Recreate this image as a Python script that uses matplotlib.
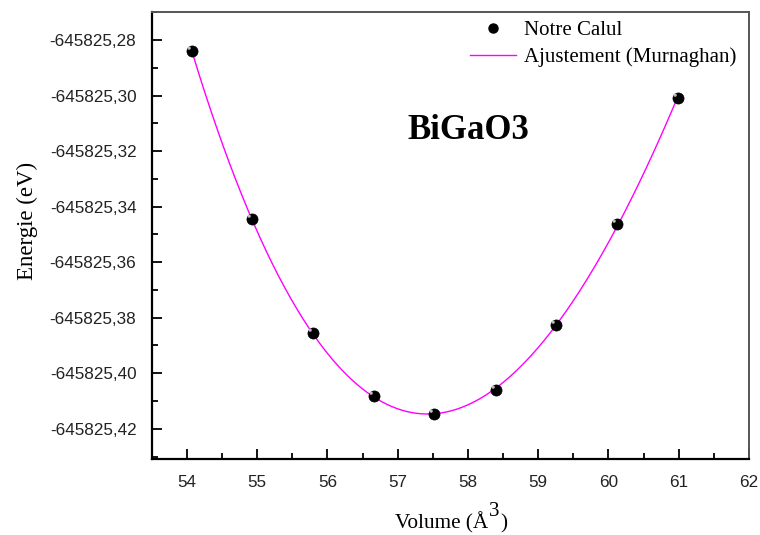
import numpy as np
import matplotlib
matplotlib.use("Agg")
import matplotlib.pyplot as plt
from matplotlib.path import Path
from matplotlib.ticker import MultipleLocator, FuncFormatter
from matplotlib.lines import Line2D

# Calculated total energies of BiGaO3 versus cell volume
volume_a3 = [54.07, 54.93, 55.79, 56.66, 57.52, 58.40, 59.26, 60.12, 60.99]
energy_ev = [-645825.2840, -645825.3446, -645825.3856, -645825.4082, -645825.4148,
             -645825.4060, -645825.3825, -645825.3464, -645825.3007]

x_ticks = [54, 55, 56, 57, 58, 59, 60, 61, 62]
y_ticks = [-645825.42, -645825.40, -645825.38, -645825.36, -645825.34,
           -645825.32, -645825.30, -645825.28]

V = np.asarray(volume_a3)
E = np.asarray(energy_ev)
E_ref = np.round(E.mean(), 1)
dE = E - E_ref


def murnaghan_shape(v, v0, bp):
    return v / bp * ((v0 / v) ** bp / (bp - 1.0) + 1.0) - v0 / (bp - 1.0)


# Murnaghan fit: grid over V0 and B0', linear least squares for E0 and B0
best = None
for v0 in np.linspace(56.5, 58.5, 401):
    for bp in np.linspace(1.5, 9.0, 151):
        A = np.column_stack([np.ones_like(V), murnaghan_shape(V, v0, bp)])
        coef, *_ = np.linalg.lstsq(A, dE, rcond=None)
        res = np.sum((A @ coef - dE) ** 2)
        if best is None or res < best[0]:
            best = (res, v0, bp, coef)
_, V0, Bp, (E0, B0) = best
v_fit = np.linspace(V.min(), V.max(), 400)
e_fit = E_ref + E0 + B0 * murnaghan_shape(v_fit, V0, Bp)

serif = ["Liberation Serif", "DejaVu Serif"]
sans = ["Liberation Sans", "DejaVu Sans"]

fig = plt.figure(figsize=(7.6, 5.35), dpi=100)
ax = fig.add_axes([0.1996, 0.1415, 0.7859, 0.8355])

fit_line, = ax.plot(v_fit, e_fit, color="#ff00ff", lw=1.0, zorder=2)

# sphere-like markers: black disc with a small off-centre highlight
t = np.linspace(0, 2 * np.pi, 40)
hl_verts = np.column_stack([-0.33 + 0.16 * np.cos(t), 0.33 + 0.16 * np.sin(t)])
hl_path = Path(np.vstack([hl_verts, [[0.55, -0.55]]]),
               [Path.MOVETO] + [Path.LINETO] * 39 + [Path.MOVETO])
ms = 8
ax.plot(V, E, "o", ms=ms, mfc="black", mec="black", mew=0.5, ls="none", zorder=3)
ax.plot(V, E, ls="none", marker=hl_path, ms=ms, mfc="#bdbdbd", mec="none", zorder=4)

ax.set_xlim(53.5, 62)
ax.set_ylim(-645825.431, -645825.270)
ax.set_xticks(x_ticks)
ax.set_yticks(y_ticks)
ax.xaxis.set_minor_locator(MultipleLocator(0.5))
ax.yaxis.set_minor_locator(MultipleLocator(0.01))
ax.yaxis.set_major_formatter(FuncFormatter(lambda v, p: f"{v:.2f}".replace(".", ",")))

ax.tick_params(which="both", direction="in", top=False, right=False, width=1.3, colors="black")
ax.tick_params(which="major", length=7, pad=11, labelsize=12.3)
ax.tick_params(which="minor", length=4)
for lab in ax.get_xticklabels() + ax.get_yticklabels():
    lab.set_family(sans)
    lab.set_color("#222222")

for side in ("left", "bottom"):
    ax.spines[side].set_linewidth(1.6)
    ax.spines[side].set_color("black")
for side in ("top", "right"):
    ax.spines[side].set_linewidth(1.4)
    ax.spines[side].set_color("#555555")

# x-axis title with a full-size raised exponent
xl_main = ax.text(0.4073, -0.1537, "Volume (Å", transform=ax.transAxes, family=serif,
                  fontsize=15.2, ha="left", va="baseline")
xl_exp = ax.annotate("3", xy=(1, 0), xycoords=xl_main, xytext=(0.8, 8.6),
                     textcoords="offset points", family=serif, fontsize=15.2,
                     ha="left", va="bottom")
ax.annotate(")", xy=(1, 0), xycoords=(xl_exp, xl_main), xytext=(0.3, 0),
            textcoords="offset points", family=serif, fontsize=15.2,
            ha="left", va="bottom")

ax.set_ylabel("Energie (eV)", family=serif, fontsize=16.5)
ax.yaxis.set_label_coords(-0.19, 0.533)

ax.text(0.53, 0.735, "BiGaO3", transform=ax.transAxes, family=serif,
        fontsize=25, fontweight="bold", ha="center", va="center")

pts_handle = Line2D([], [], ls="none", marker="o", ms=6.5, mfc="black", mec="black")
leg = ax.legend([pts_handle, fit_line], ["Notre Calul", "Ajustement (Murnaghan)"],
                loc="upper left", bbox_to_anchor=(0.533, 0.982), frameon=False,
                prop={"family": serif, "size": 15}, handlelength=2.2,
                handletextpad=0.38, labelspacing=0.35, borderpad=0, borderaxespad=0)

fig.savefig("out.png", dpi=100)
